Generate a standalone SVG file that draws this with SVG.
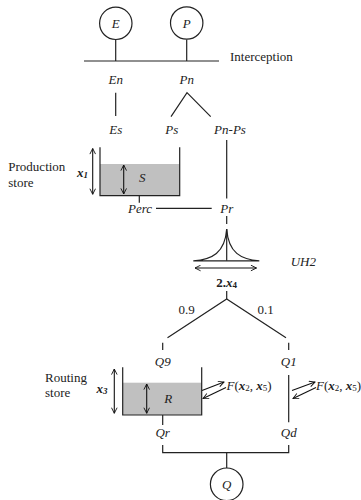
<svg xmlns="http://www.w3.org/2000/svg" width="361" height="500" viewBox="0 0 361 500" font-family="'Liberation Serif', 'Times New Roman', 'DejaVu Serif', serif">
<defs>
<marker id="ah" viewBox="0 0 10 10" refX="9" refY="5" markerWidth="7" markerHeight="7" orient="auto-start-reverse" markerUnits="userSpaceOnUse">
<path d="M1,1 L9,5 L1,9" fill="none" stroke="#111" stroke-width="1.3"/>
</marker>
<style>
.l{stroke:#222;stroke-width:1.2;fill:none}
.a{stroke:#111;stroke-width:1.1;fill:none;marker-end:url(#ah)}
.d{stroke:#111;stroke-width:1.1;fill:none;marker-start:url(#ah);marker-end:url(#ah)}
text{font-family:'Liberation Serif','Times New Roman','DejaVu Serif',serif;font-size:13px;fill:#222}
.i{font-style:italic;text-anchor:middle}
.b{font-weight:bold;font-style:italic}
.c{fill:#fff;stroke:#222;stroke-width:1.2}
.w{fill:#c0c0c0;stroke:none}
</style>
</defs>
<rect width="361" height="500" fill="#fff"/>
<g id="connectors">
<line class="l" x1="84" y1="61" x2="219" y2="61"/>
<line class="l" x1="115.7" y1="39.5" x2="115.7" y2="61"/>
<line class="l" x1="186.7" y1="39.5" x2="186.7" y2="61"/>
<line class="l" x1="115.7" y1="92.7" x2="115.7" y2="116"/>
<polyline class="l" points="171,116.7 187,92.7 210.7,116.7"/>
<line class="l" x1="226.7" y1="140" x2="226.7" y2="198.5"/>
<line class="l" x1="139.3" y1="195.7" x2="139.3" y2="202.7"/>
<line class="l" x1="156" y1="208.3" x2="211.7" y2="208.3"/>
<line class="l" x1="226.7" y1="216" x2="226.7" y2="224"/>
<line class="l" x1="226.7" y1="291" x2="226.7" y2="299"/>
<polyline class="l" points="167.5,337.7 226.7,299 286,337.7"/>
<line class="l" x1="162.7" y1="342.7" x2="162.7" y2="350"/>
<line class="l" x1="288.7" y1="342.7" x2="288.7" y2="350"/>
<line class="l" x1="288.7" y1="375" x2="288.7" y2="422.3"/>
<line class="l" x1="162.7" y1="415" x2="162.7" y2="425"/>
<polyline class="l" points="162.7,445 162.7,452.7 288.7,452.7 288.7,445"/>
<line class="l" x1="226.7" y1="452.7" x2="226.7" y2="468"/>
<line class="a" x1="202" y1="390.5" x2="224" y2="382"/>
<line class="a" x1="226" y1="387.5" x2="203" y2="398.5"/>
<line class="a" x1="292" y1="390.5" x2="315" y2="382"/>
<line class="a" x1="316" y1="387.5" x2="293" y2="398.5"/>
</g>
<g id="E"><circle class="c" cx="115.8" cy="23.3" r="16.2"/><text class="i" x="115.8" y="28">E</text></g>
<g id="P"><circle class="c" cx="186.7" cy="23" r="16.2"/><text class="i" x="186.7" y="27.5">P</text></g>
<g id="interception"><text x="230" y="61">Interception</text></g>
<g id="En"><text class="i" x="115.7" y="84">En</text></g>
<g id="Pn"><text class="i" x="186.7" y="84">Pn</text></g>
<g id="Es"><text class="i" x="115.7" y="134">Es</text></g>
<g id="Ps"><text class="i" x="171.7" y="134">Ps</text></g>
<g id="PnPs"><text class="i" x="230" y="134">Pn-Ps</text></g>
<g id="production-store">
<rect class="w" x="100" y="164" width="79.7" height="31.7"/>
<polyline class="l" points="100,147.3 100,195.7 179.7,195.7 179.7,147.3"/>
<line class="d" x1="92.7" y1="148.5" x2="92.7" y2="194.3"/>
<line class="d" x1="123.7" y1="165" x2="123.7" y2="194"/>
<text class="i" x="142.3" y="182">S</text>
<text class="b" x="77" y="177">x<tspan font-size="9" dy="1">1</tspan></text>
<text x="8.3" y="171">Production</text>
<text x="8.3" y="187">store</text>
</g>
<g id="Perc"><text class="i" x="140" y="212.5">Perc</text></g>
<g id="Pr"><text class="i" x="226.7" y="212.5">Pr</text></g>
<g id="UH2">
<path class="l" d="M193.3,260.8 C212,259.5 225,253 226.7,229 C228.4,253 241,259.5 259.3,260.8 Z"/>
<line class="l" x1="226.7" y1="229" x2="226.7" y2="260.8"/>
<line class="d" x1="195" y1="268" x2="256.5" y2="268"/>
<text x="290.7" y="265.5" font-style="italic">UH2</text>
<text x="226.7" y="287" text-anchor="middle" font-weight="bold">2.<tspan font-style="italic">x</tspan><tspan font-size="9" dy="1">4</tspan></text>
</g>
<g id="split">
<text x="186.7" y="313.5" text-anchor="middle">0.9</text>
<text x="265.7" y="313.5" text-anchor="middle">0.1</text>
</g>
<g id="Q9"><text class="i" x="162.7" y="366">Q9</text></g>
<g id="Q1"><text class="i" x="288.7" y="366">Q1</text></g>
<g id="routing-store">
<rect class="w" x="122.7" y="382.7" width="79" height="32.3"/>
<polyline class="l" points="122.7,367.3 122.7,415 201.7,415 201.7,367.3"/>
<line class="d" x1="114.3" y1="369" x2="114.3" y2="413.3"/>
<line class="d" x1="146.7" y1="384" x2="146.7" y2="413.3"/>
<text class="i" x="168.3" y="402.5">R</text>
<text class="b" x="96.5" y="392.5">x<tspan font-size="9" dy="1">3</tspan></text>
<text x="45" y="382">Routing</text>
<text x="45" y="397">store</text>
</g>
<g id="F1"><text x="226.5" y="390"><tspan font-style="italic">F</tspan>(<tspan class="b">x</tspan><tspan font-size="9" dy="1">2</tspan><tspan dy="-1">, </tspan><tspan class="b">x</tspan><tspan font-size="9" dy="1">5</tspan><tspan dy="-1">)</tspan></text></g>
<g id="F2"><text x="316" y="390"><tspan font-style="italic">F</tspan>(<tspan class="b">x</tspan><tspan font-size="9" dy="1">2</tspan><tspan dy="-1">, </tspan><tspan class="b">x</tspan><tspan font-size="9" dy="1">5</tspan><tspan dy="-1">)</tspan></text></g>
<g id="Qr"><text class="i" x="162.7" y="437">Qr</text></g>
<g id="Qd"><text class="i" x="288.7" y="437">Qd</text></g>
<g id="Q"><circle class="c" cx="226.7" cy="484.3" r="16.3"/><text class="i" x="226.7" y="489">Q</text></g>
</svg>
